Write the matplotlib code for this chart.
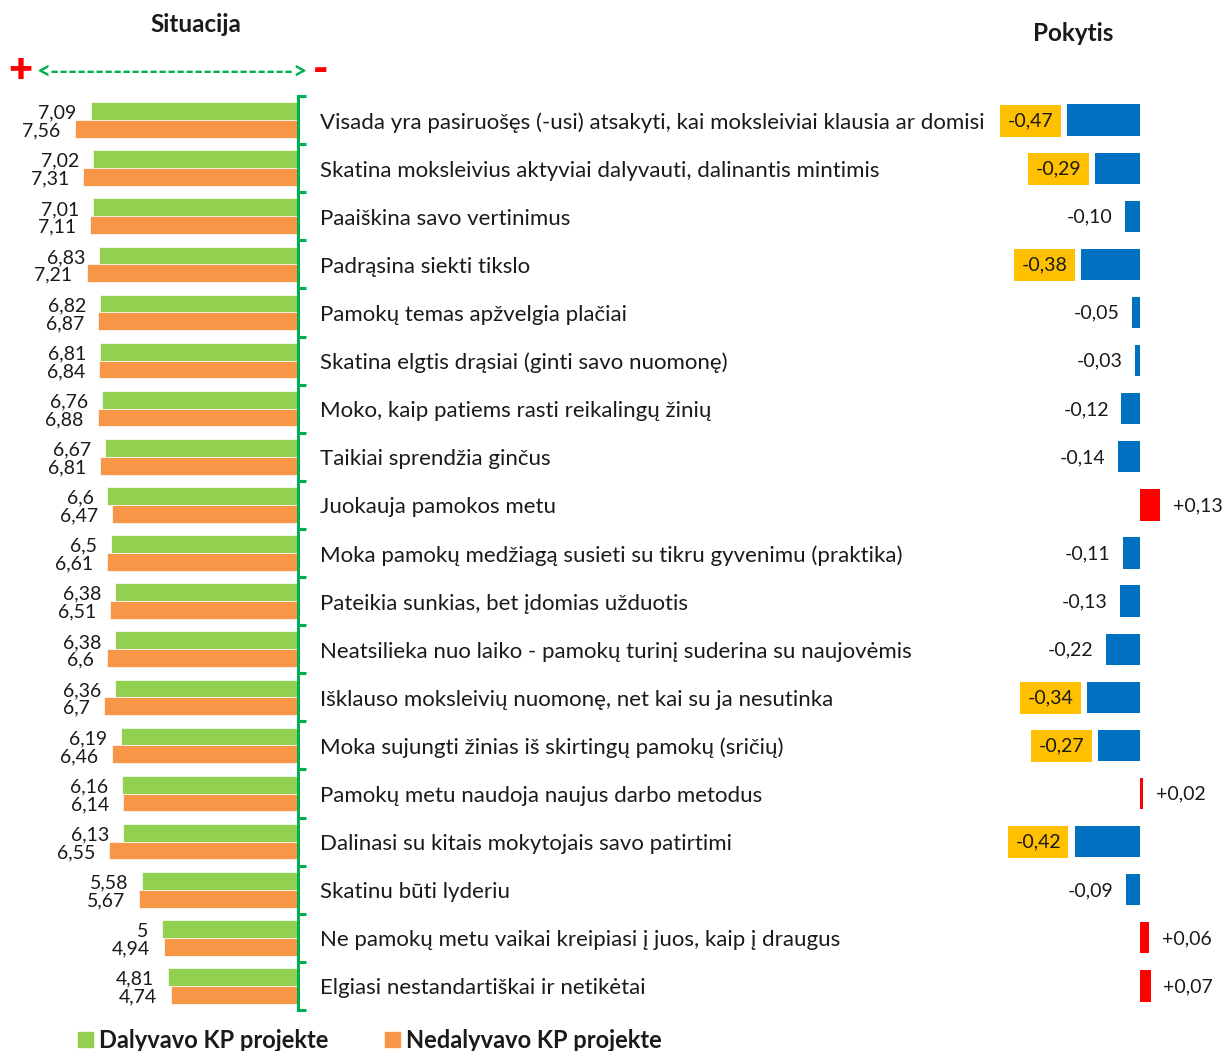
import matplotlib.pyplot as plt
from matplotlib.transforms import blended_transform_factory

plt.rcParams['font.family'] = ['Lato', 'DejaVu Sans']

# --- DATA ---
categories = [
    "Visada yra pasiruošęs (-usi) atsakyti, kai moksleiviai klausia ar domisi",
    "Skatina moksleivius aktyviai dalyvauti, dalinantis mintimis",
    "Paaiškina savo vertinimus",
    "Padrąsina siekti tikslo",
    "Pamokų temas apžvelgia plačiai",
    "Skatina elgtis drąsiai (ginti savo nuomonę)",
    "Moko, kaip patiems rasti reikalingų žinių",
    "Taikiai sprendžia ginčus",
    "Juokauja pamokos metu",
    "Moka pamokų medžiagą susieti su tikru gyvenimu (praktika)",
    "Pateikia sunkias, bet įdomias užduotis",
    "Neatsilieka nuo laiko - pamokų turinį suderina su naujovėmis",
    "Išklauso moksleivių nuomonę, net kai su ja nesutinka",
    "Moka sujungti žinias iš skirtingų pamokų (sričių)",
    "Pamokų metu naudoja naujus darbo metodus",
    "Dalinasi su kitais mokytojais savo patirtimi",
    "Skatinu būti lyderiu",
    "Ne pamokų metu vaikai kreipiasi į juos, kaip į draugus",
    "Elgiasi nestandartiškai ir netikėtai",
]
dalyvavo = [7.09, 7.02, 7.01, 6.83, 6.82, 6.81, 6.76, 6.67, 6.6, 6.5,
            6.38, 6.38, 6.36, 6.19, 6.16, 6.13, 5.58, 5, 4.81]
nedalyvavo = [7.56, 7.31, 7.11, 7.21, 6.87, 6.84, 6.88, 6.81, 6.47, 6.61,
              6.51, 6.6, 6.7, 6.46, 6.14, 6.55, 5.67, 4.94, 4.74]
pokytis = [-0.47, -0.29, -0.10, -0.38, -0.05, -0.03, -0.12, -0.14, 0.13, -0.11,
           -0.13, -0.22, -0.34, -0.27, 0.02, -0.42, -0.09, 0.06, 0.07]

GREEN = "#92D050"
ORANGE = "#F79646"
BLUE = "#0070C0"
RED = "#FF0000"
YELLOW = "#FFC000"
AXGREEN = "#00B050"
TXT = "#1a1a1a"


def fmt(v):
    return f"{v:g}".replace(".", ",")


def fmt2(v):
    s = f"{v:.2f}" if v < 0 else f"{v:+.2f}"
    return s.replace(".", ",")


W, H = 1230, 1051
fig = plt.figure(figsize=(W / 100, H / 100), dpi=100)

top_px, bot_px = 96, 1010
ax_b = 1 - bot_px / H
ax_h = (bot_px - top_px) / H

# --- LEFT PANEL: Situacija ---
ax = fig.add_axes([0.0, ax_b, 298 / W, ax_h])
n = len(categories)
y = list(range(n))
bh = 0.37
ax.barh([i - bh / 2 for i in y], dalyvavo, height=bh, color=GREEN,
        edgecolor="white", linewidth=0.5)
ax.barh([i + bh / 2 for i in y], nedalyvavo, height=bh, color=ORANGE,
        edgecolor="white", linewidth=0.5)
ax.set_xlim(9.75, 1.0)
ax.set_ylim(n - 0.5, -0.5)
for i in y:
    ax.annotate(fmt(dalyvavo[i]), (dalyvavo[i], i - bh / 2), xytext=(-10, -1.5),
                textcoords="offset points", ha="right", va="center",
                fontsize=14, color=TXT)
    ax.annotate(fmt(nedalyvavo[i]), (nedalyvavo[i], i + bh / 2), xytext=(-10, -1.5),
                textcoords="offset points", ha="right", va="center",
                fontsize=14, color=TXT)
for s in ["top", "left", "bottom"]:
    ax.spines[s].set_visible(False)
ax.spines["right"].set_color(AXGREEN)
ax.spines["right"].set_linewidth(2.2)
ax.set_xticks([])
ax.yaxis.tick_right()
ax.set_yticks([i - 0.5 for i in range(n + 1)])
ax.set_yticklabels([])
ax.tick_params(axis="y", direction="out", length=6, width=2.2, color=AXGREEN)

# category labels
trans = blended_transform_factory(fig.transFigure, ax.transData)
for i, c in enumerate(categories):
    ax.text(320 / W, i + 0.05, c, transform=trans, ha="left", va="center",
            fontsize=16, color=TXT)

# --- RIGHT PANEL: Pokytis ---
ax2 = fig.add_axes([980 / W, ax_b, 250 / W, ax_h])
colors = [BLUE if v < 0 else RED for v in pokytis]
ax2.barh(y, pokytis, height=0.65, color=colors)
ax2.set_xlim(-160 / 155, 90 / 155)
ax2.set_ylim(n - 0.5, -0.5)
ax2.axis("off")
for i, v in enumerate(pokytis):
    if v < 0:
        boxed = v <= -0.27
        ax2.annotate(fmt2(v), (v, i), xytext=(-10 if boxed else -9, -0.5),
                     textcoords="offset points", ha="right", va="center",
                     fontsize=14, color=TXT,
                     bbox=dict(boxstyle="square,pad=0.38", fc=YELLOW, ec="none")
                     if boxed else None)
    else:
        ax2.annotate(fmt2(v), (v, i), xytext=(9, -0.5),
                     textcoords="offset points", ha="left", va="center",
                     fontsize=14, color=TXT)

# --- TITLES & DECORATIONS ---
fig.text(196 / W, 1 - 24 / H, "Situacija", ha="center", va="center",
         fontsize=17.5, fontweight="bold", color=TXT)
fig.text(1073 / W, 1 - 33 / H, "Pokytis", ha="center", va="center",
         fontsize=17.5, fontweight="bold", color=TXT)
fig.text(20 / W, 1 - 70 / H, "+", ha="center", va="center", fontsize=30,
         fontweight="heavy", color=RED)
fig.text(321 / W, 1 - 70 / H, "-", ha="center", va="center", fontsize=30,
         fontweight="heavy", color=RED)
fig.text(172 / W, 1 - 71 / H, "<" + "-" * 27 + ">", ha="center", va="center",
         fontsize=17.5, fontweight="bold", color=AXGREEN)

# --- LEGEND ---
leg_y = 1 - 1040 / H
for x0, col, lab in [(78, GREEN, "Dalyvavo KP projekte"),
                     (385, ORANGE, "Nedalyvavo KP projekte")]:
    fig.patches.append(plt.Rectangle((x0 / W, leg_y - 7 / H), 15 / W, 15 / H,
                                     transform=fig.transFigure, color=col))
    fig.text((x0 + 21) / W, leg_y, lab, ha="left", va="center", fontsize=17,
             fontweight="bold", color=TXT)

fig.savefig("out.png", dpi=100)
